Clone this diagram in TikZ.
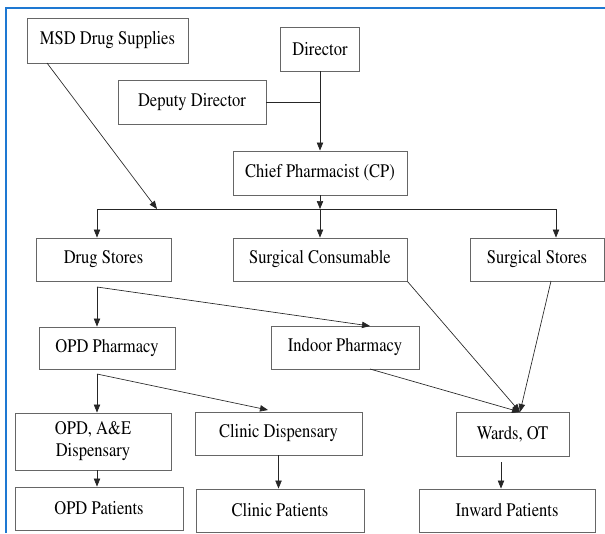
\documentclass[tikz,border=0pt]{standalone}
\usepackage[T1]{fontenc}
\usepackage{times}
\usepackage{graphicx}
\usetikzlibrary{arrows.meta}

\newcommand{\boxtext}[1]{\scalebox{1}[1.16]{#1}}

\begin{document}
\begin{tikzpicture}[x=0.75pt, y=-0.75pt,
        unit/.style={draw=black!60, line width=0.7pt, fill=white, inner sep=2pt, align=center,
            font=\rmfamily\fontsize{12.4}{16.5}\selectfont},
        link/.style={draw=black!85, line width=0.5pt},
        feed/.style={link, -{Triangle[length=6pt, width=4.8pt]}}]
            \useasboundingbox (0,0) rectangle (605,533);
            \draw[line width=1.6pt, color={rgb,255:red,30;green,120;blue,210}] (6,533) -- (6,8) -- (605,8);
            % boxes
            \node[unit, minimum width=120.75pt, minimum height=33.75pt] (msd) at (107.5,40.5) {\boxtext{MSD Drug Supplies}};
            \node[unit, minimum width=59.25pt, minimum height=33pt] (director) at (320,49) {\boxtext{Director}};
            \node[unit, minimum width=111pt, minimum height=33pt] (deputy) at (192,102) {\boxtext{Deputy Director}};
            \node[unit, minimum width=130.5pt, minimum height=33pt] (chief) at (320,173) {\boxtext{Chief Pharmacist (CP)}};
            \node[unit, minimum width=101.25pt, minimum height=32.25pt] (drugstores) at (103.5,259.5) {\boxtext{Drug Stores}};
            \node[unit, minimum width=130.5pt, minimum height=32.25pt] (surgcons) at (320,259.5) {\boxtext{Surgical Consumable}};
            \node[unit, minimum width=100.5pt, minimum height=32.25pt] (surgstores) at (537,259.5) {\boxtext{Surgical Stores}};
            \node[unit, minimum width=102pt, minimum height=31.5pt] (opdpharm) at (107,348) {\boxtext{OPD Pharmacy}};
            \node[unit, minimum width=111pt, minimum height=32.25pt] (indoor) at (345,347.5) {\boxtext{Indoor Pharmacy}};
            \node[unit, minimum width=117pt, minimum height=42.75pt] (opdae) at (93,441.5) {\boxtext{OPD, A\&E}\\\boxtext{Dispensary}};
            \node[unit, minimum width=125.25pt, minimum height=32.25pt] (clinicdisp) at (278.5,433.5) {\boxtext{Clinic Dispensary}};
            \node[unit, minimum width=84.75pt, minimum height=33pt] (wards) at (512.5,434) {\boxtext{Wards, OT}};
            \node[unit, minimum width=126pt, minimum height=32.25pt] (opdpat) at (99,508.5) {\boxtext{OPD Patients}};
            \node[unit, minimum width=126pt, minimum height=32.25pt] (clinicpat) at (280,510.5) {\boxtext{Clinic Patients}};
            \node[unit, minimum width=132pt, minimum height=32.25pt] (inward) at (507,510.5) {\boxtext{Inward Patients}};
            % free ends
            \coordinate (barL) at (97,209);
            \coordinate (barR) at (556,209);
            \coordinate (msdout) at (47,63);
            \coordinate (msdin) at (157,209);
            \coordinate (dsfork) at (97,287);
            \coordinate (indoorin) at (370,326);
            \coordinate (opdfork) at (97,374);
            \coordinate (clinicin) at (268,410);
            \coordinate (indoorout) at (370,369);
            \coordinate (storesout) at (551,281);
            \coordinate (wardsin) at (520,412);
            \coordinate (wardsout) at (501,462);
            % connectors
            \draw[link] (deputy.east) -- (deputy.east -| director.south);
            \draw[feed] (director.south) -- (chief.north);
            \draw[feed] (chief.south) -- (chief.south |- barL);
            \draw[link] (barL) -- (barR);
            \draw[feed] (msdout) -- (msdin);
            \draw[feed] (barL) -- (barL |- drugstores.north);
            \draw[feed] (surgcons.north |- barL) -- (surgcons.north);
            \draw[feed] (barR) -- (barR |- surgstores.north);
            \draw[feed] (dsfork) -- (dsfork |- opdpharm.north);
            \draw[feed] (dsfork) -- (indoorin);
            \draw[feed] (opdfork) -- (opdfork |- opdae.north);
            \draw[feed] (opdfork) -- (clinicin);
            \draw[feed] (surgcons.south east) -- (wardsin);
            \draw[feed] (storesout) -- (wardsin);
            \draw[feed] (indoorout) -- (wardsin);
            \draw[feed] (opdfork |- opdae.south) -- (opdfork |- opdpat.north);
            \draw[feed] (clinicdisp.south) -- (clinicdisp.south |- clinicpat.north);
            \draw[feed] (wardsout) -- (wardsout |- inward.north);
        \end{tikzpicture}
\end{document}
